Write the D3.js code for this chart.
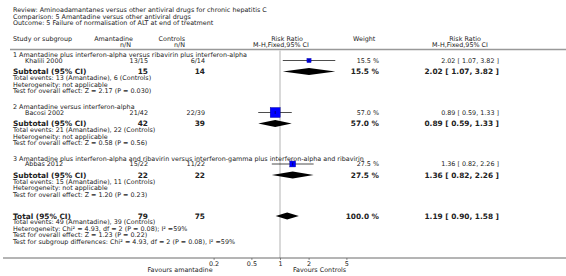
<!DOCTYPE html>
<html>
<head>
<meta charset="utf-8">
<script src="https://cdn.jsdelivr.net/npm/d3@7"></script>
<style>
  body { margin: 0; background: #fff; }
  svg { display: block; font-family: "DejaVu Sans", sans-serif; }
</style>
</head>
<body>
<div id="chart"></div>
<script>
// header texts
const headerLines = [
  "Review:  Aminoadamantanes versus other antiviral drugs for chronic hepatitis C",
  "Comparison:  5 Amantadine versus other antiviral drugs",
  "Outcome:  5 Failure of normalisation of ALT at end of treatment"
];

// subgroups
const groupTitles = [
  "1 Amantadine plus interferon-alpha versus ribavirin plus interferon-alpha",
  "2 Amantadine versus interferon-alpha",
  "3 Amantadine plus interferon-alpha and ribavirin versus interferon-gamma plus interferon-alpha and ribavirin"
];
const groupTotalsAmantadine = [15, 42, 22];
const groupTotalsControls = [14, 39, 22];
const groupWeight = [15.5, 57.0, 27.5];
const groupRR = [2.02, 0.89, 1.36];
const groupLow = [1.07, 0.59, 0.82];
const groupHigh = [3.82, 1.33, 2.26];
const groupNotes = [
  ["Total events: 13 (Amantadine), 6 (Controls)", "Heterogeneity: not applicable", "Test for overall effect: Z = 2.17 (P = 0.030)"],
  ["Total events: 21 (Amantadine), 22 (Controls)", "Heterogeneity: not applicable", "Test for overall effect: Z = 0.58 (P = 0.56)"],
  ["Total events: 15 (Amantadine), 11 (Controls)", "Heterogeneity: not applicable", "Test for overall effect: Z = 1.20 (P = 0.23)"]
];

// studies (one per subgroup)
const studyNames = ["Khalili 2000", "Bacosi 2002", "Abbas 2012"];
const studyAmantadine = ["13/15", "21/42", "15/22"];
const studyControls = ["6/14", "22/39", "11/22"];
const studyWeight = [15.5, 57.0, 27.5];
const studyRR = [2.02, 0.89, 1.36];
const studyLow = [1.07, 0.59, 0.82];
const studyHigh = [3.82, 1.33, 2.26];

// overall
const totalN = [79, 75];
const totalWeight = 100.0;
const totalRR = [1.19, 0.90, 1.58];
const totalNotes = [
  "Total events: 49 (Amantadine), 39 (Controls)",
  "Heterogeneity: Chi\u00b2 = 4.93, df = 2 (P = 0.08); I\u00b2 =59%",
  "Test for overall effect: Z = 1.23 (P = 0.22)",
  "Test for subgroup differences: Chi\u00b2 = 4.93, df = 2 (P = 0.08), I\u00b2 =59%"
];

const tickValues = [0.2, 0.5, 1, 2, 5];

const width = 566, height = 276;
const svg = d3.select("#chart").append("svg")
  .attr("width", width)
  .attr("height", height);

const x = d3.scaleLog().domain([0.1, 10]).range([185, 375]);
// square side grows with study weight
const sq = d3.scaleLinear().domain([0, 57]).range([2, 10]);

const small = 6.4, big = 7.4;
const txt = "#222";
const fmt = d3.format(".2f");
const ciText = (r, l, h) => `${fmt(r)} [ ${fmt(l)}, ${fmt(h)} ]`;

function text(x0, y0, s, size, opts = {}) {
  return svg.append("text")
    .attr("x", x0).attr("y", y0)
    .attr("text-anchor", opts.anchor || "start")
    .style("font-size", size + "px")
    .style("font-weight", opts.bold ? "bold" : "normal")
    .style("fill", txt)
    .text(s);
}

// title block
headerLines.forEach((s, i) => text(13, 12 + i * 6.5, s, small));

// column headers
text(13, 40.5, "Study or subgroup", small);
text(133, 40.5, "Amantadine", small, { anchor: "end" });
text(131, 46.5, "n/N", small, { anchor: "end" });
text(185, 40.5, "Controls", small, { anchor: "end" });
text(185, 46.5, "n/N", small, { anchor: "end" });
text(287, 40.5, "Risk Ratio", small, { anchor: "middle" });
text(281, 46.5, "M-H,Fixed,95% CI", small, { anchor: "middle" });
text(353, 40.5, "Weight", small);
text(465, 40.5, "Risk Ratio", small, { anchor: "middle" });
text(460, 46.5, "M-H,Fixed,95% CI", small, { anchor: "middle" });

svg.append("line")
  .attr("x1", 10).attr("x2", width)
  .attr("y1", 49.5).attr("y2", 49.5)
  .attr("stroke", "#999").attr("stroke-width", 1.6);

// null line
svg.append("line")
  .attr("x1", x(1)).attr("x2", x(1))
  .attr("y1", 50).attr("y2", 258)
  .attr("stroke", "#d9d9d9").attr("stroke-width", 2);

// row layout (baselines)
const groupTop = [57, 109, 160.5];

function diamond(cy, r, l, h) {
  const hh = 3.6;
  svg.append("path")
    .attr("d", `M${x(l)},${cy} L${x(r)},${cy - hh} L${x(h)},${cy} L${x(r)},${cy + hh} Z`)
    .attr("fill", "#000");
}

groupTitles.forEach((title, g) => {
  const y0 = groupTop[g];
  text(13, y0, title, small);

  // study row
  const ys = y0 + 5.5;
  text(25, ys, studyNames[g], small);
  text(148, ys, studyAmantadine[g], small, { anchor: "end" });
  text(205, ys, studyControls[g], small, { anchor: "end" });
  text(379, ys, studyWeight[g].toFixed(1) + " %", small, { anchor: "end" });
  text(499, ys, ciText(studyRR[g], studyLow[g], studyHigh[g]), small, { anchor: "end" });

  const cy = ys - 2;
  svg.append("line")
    .attr("x1", x(studyLow[g])).attr("x2", x(studyHigh[g]))
    .attr("y1", cy).attr("y2", cy)
    .attr("stroke", "#000").attr("stroke-width", 0.7);
  const s = sq(studyWeight[g]);
  svg.append("rect")
    .attr("x", x(studyRR[g]) - s / 2).attr("y", cy - s / 2)
    .attr("width", s).attr("height", s)
    .attr("fill", "#0000ff").attr("stroke", "#00008b").attr("stroke-width", 0.4);
  svg.append("line")
    .attr("x1", x(studyRR[g])).attr("x2", x(studyRR[g]))
    .attr("y1", cy - 1.5).attr("y2", cy + 1.5)
    .attr("stroke", "#000").attr("stroke-width", 0.5);

  // subtotal
  const yt = y0 + 17;
  text(13, yt, "Subtotal (95% CI)", big, { bold: true });
  text(148, yt, groupTotalsAmantadine[g], big, { anchor: "end", bold: true });
  text(205, yt, groupTotalsControls[g], big, { anchor: "end", bold: true });
  text(379, yt, groupWeight[g].toFixed(1) + " %", big, { anchor: "end", bold: true });
  text(499, yt, ciText(groupRR[g], groupLow[g], groupHigh[g]), big, { anchor: "end", bold: true });
  diamond(yt - 2.5, groupRR[g], groupLow[g], groupHigh[g]);

  groupNotes[g].forEach((s, i) => text(13, yt + 6.3 + i * 6.5, s, small));
});

// overall
const yT = 218.5;
text(13, yT, "Total (95% CI)", big, { bold: true });
text(148, yT, totalN[0], big, { anchor: "end", bold: true });
text(205, yT, totalN[1], big, { anchor: "end", bold: true });
text(379, yT, totalWeight.toFixed(1) + " %", big, { anchor: "end", bold: true });
text(499, yT, ciText(totalRR[0], totalRR[1], totalRR[2]), big, { anchor: "end", bold: true });
diamond(yT - 2.5, totalRR[0], totalRR[1], totalRR[2]);
totalNotes.forEach((s, i) => text(13, yT + 5.8 + i * 6.4, s, small));

// axis
const axisY = 258;
svg.append("line")
  .attr("x1", 3).attr("x2", width)
  .attr("y1", axisY).attr("y2", axisY)
  .attr("stroke", "#444").attr("stroke-width", 0.8);
const axis = svg.append("g").attr("transform", `translate(0,${axisY})`)
  .call(d3.axisBottom(x).tickValues(tickValues).tickFormat(d => d).tickSize(2).tickPadding(1));
axis.select(".domain").remove();
axis.selectAll("line").attr("stroke", "#444").attr("stroke-width", 0.6);
axis.selectAll("text")
  .style("font-family", "DejaVu Sans, sans-serif")
  .style("font-size", small + "px")
  .style("fill", txt);

text(x(0.2) - 1, 271.5, "Favours amantadine", small, { anchor: "end" });
text(x(1) + 13, 271.5, "Favours Controls", small);
</script>
</body>
</html>
